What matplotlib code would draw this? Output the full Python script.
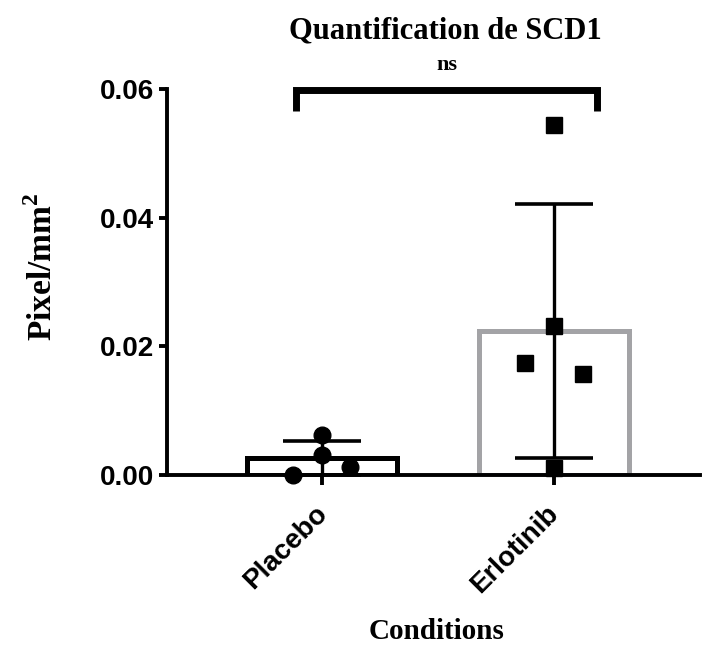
import matplotlib.pyplot as plt
import matplotlib.transforms as mtransforms
import numpy as np

conditions = ['Placebo', 'Erlotinib']
placebo_vals = [0.0062, 0.0031, 0.0000, 0.0013]
placebo_dx = [0.0, 0.0, -0.125, 0.12]
erlotinib_vals = [0.0544, 0.0232, 0.0174, 0.0157, 0.0011]
erlotinib_dx = [0.0, 0.0, -0.125, 0.125, 0.0]
edge_colors = ['black', '#a3a3a6']
markers = ['o', 's']

groups = [placebo_vals, erlotinib_vals]
offsets = [placebo_dx, erlotinib_dx]

plt.rcParams['mathtext.fontset'] = 'custom'
plt.rcParams['mathtext.bf'] = 'Liberation Serif:bold'

fig = plt.figure(figsize=(7.02, 6.48), dpi=100)
ax = fig.add_axes([0.238, 0.267, 0.759, 0.596])

x = np.arange(len(conditions))
means = [np.mean(g) for g in groups]
sds = [np.std(g, ddof=1) for g in groups]

ax.bar(x, means, width=0.645, color='white', edgecolor=edge_colors,
       linewidth=3.6, zorder=2)
ax.errorbar(x, means, yerr=sds, fmt='none', ecolor='black', elinewidth=2.4,
            capsize=28, capthick=2.6, zorder=3, clip_on=False)
for i, (g, dx) in enumerate(zip(groups, offsets)):
    ax.plot(x[i] + np.array(dx), g, linestyle='none', marker=markers[i],
            markersize=12, color='black', zorder=4, clip_on=False)

ax.set_xlim(-0.668, 1.63)
ax.set_ylim(0, 0.06)
ax.set_yticks([0.0, 0.02, 0.04, 0.06])
ax.set_yticklabels(['0.00', '0.02', '0.04', '0.06'])
ax.set_xticks(x)
ax.set_xticklabels([])

for lbl in ax.get_yticklabels():
    lbl.set_fontfamily('Liberation Sans')
    lbl.set_fontweight('bold')
    lbl.set_fontsize(20)

# rotated category labels, placed just under each tick
shift = mtransforms.ScaledTranslation(-0.08, -0.26, fig.dpi_scale_trans)
for xi, name in zip(x, conditions):
    ax.text(xi, 0, name, rotation=45, ha='right', va='top',
            rotation_mode='anchor', transform=ax.get_xaxis_transform() + shift,
            fontfamily='Liberation Sans', fontweight='bold', fontsize=20)

ax.spines['top'].set_visible(False)
ax.spines['right'].set_visible(False)
for s in ['left', 'bottom']:
    ax.spines[s].set_linewidth(2.8)
ax.tick_params(axis='y', length=6, width=2.8, pad=3.5)
ax.tick_params(axis='x', length=7, width=2.8)

# significance bracket
bx0, bx1, btop, bbot = -0.11, 1.185, 0.0598, 0.0565
ax.plot([bx0, bx0, bx1, bx1], [bbot, btop, btop, bbot], color='black',
        linewidth=5, clip_on=False, zorder=5, solid_joinstyle='miter',
        solid_capstyle='butt')
ax.text((bx0 + bx1) / 2, 0.0622, 'ns', ha='center', va='bottom',
        fontfamily='Liberation Serif', fontweight='bold', fontsize=16)

fig.text(0.635, 0.952, 'Quantification de SCD1', ha='center', va='center',
         fontfamily='Liberation Serif', fontweight='bold', fontsize=22)
fig.text(0.622, 0.025, 'Conditions', ha='center', va='center',
         fontfamily='Liberation Serif', fontweight='bold', fontsize=21)
fig.text(0.061, 0.589, r'Pixel/mm$^\mathbf{2}$', ha='center', va='center',
         rotation=90, fontfamily='Liberation Serif', fontweight='bold',
         fontsize=24)

fig.savefig('out.png', dpi=100)
